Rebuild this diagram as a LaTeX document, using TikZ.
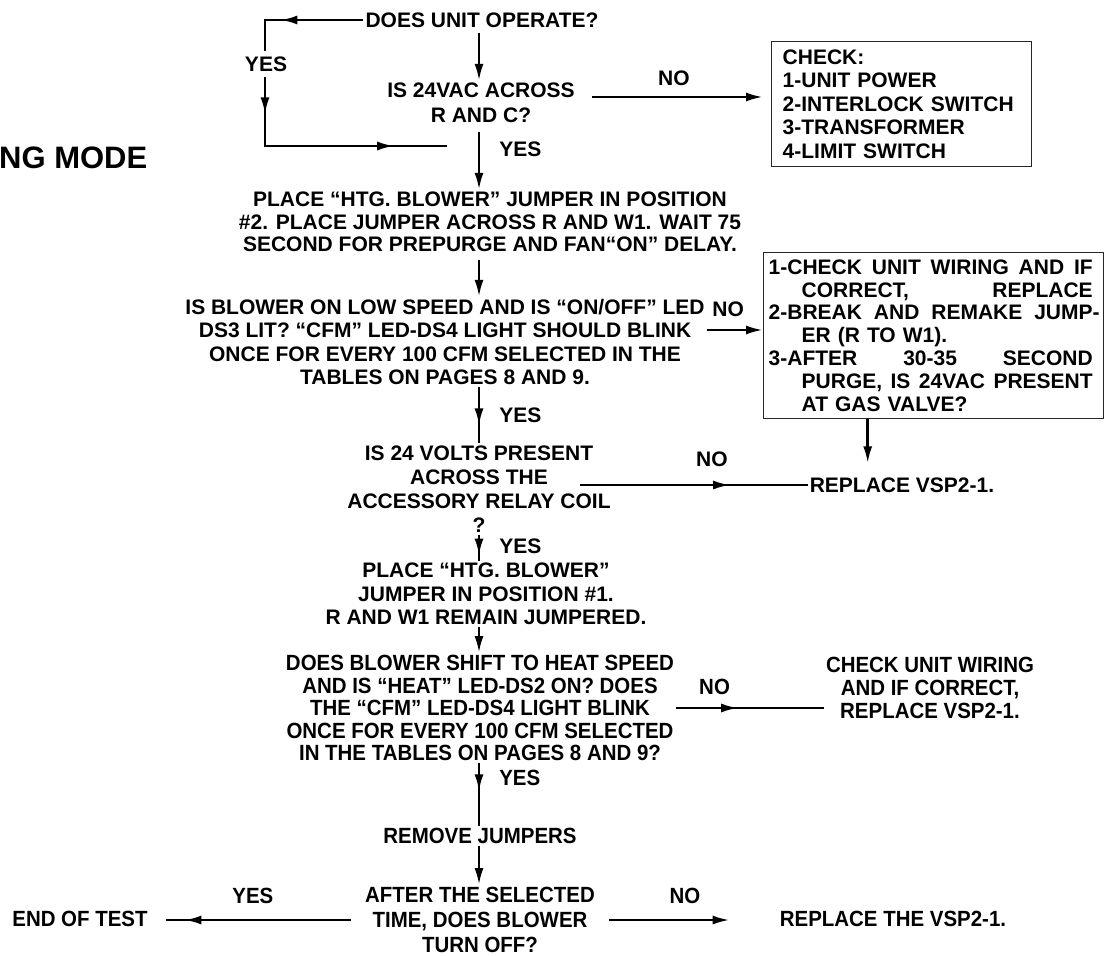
\documentclass[tikz,border=0pt]{standalone}
\usepackage{fontspec}
\setmainfont{Liberation Sans}
\newfontfamily\narrowfont[FakeStretch=0.93]{Liberation Sans}
\usetikzlibrary{arrows.meta, decorations.markings}

\begin{document}
\begin{tikzpicture}[x=1pt, y=-1pt,
    txt/.style={font=\bfseries\fontsize{21}{#1}\selectfont, align=center, inner sep=2pt},
    txt/.default=23,
    lowtxt/.style={font=\narrowfont\bfseries\fontsize{22}{#1}\selectfont, align=center, inner sep=2pt},
    lowtxt/.default=23,
    notebox/.style={draw=black!85, line width=1.4pt, align=left, anchor=north west},
    conn/.style={line width=2.6pt},
    arr/.style={conn, -{Latex[length=17pt, width=9pt]}},
    midarrow/.style={postaction={decorate, decoration={markings,
        mark=at position #1 with {\arrow{Latex[length=17pt, width=9pt]}}}}}]
    \fill[white] (0,0) rectangle (1110,955);
    \useasboundingbox (0,0) rectangle (1110,955);
    \coordinate (ax) at (479,0);

    % first questions and the YES loop
    \node[txt] (op) at (482,20) {DOES UNIT OPERATE?};
    \node[txt=25] (ac) at (481,103) {IS 24VAC ACROSS\\R AND C?};
    \node[txt, inner ysep=5pt] (yes1) at (266,64) {YES};
    \coordinate (ltop) at (265,20);
    \coordinate (lbot) at (265,146);
    \coordinate (lend) at (447,146);
    \draw[conn, midarrow=0.64] (op.west) -- (ltop) -- (ltop |- yes1.north);
    \draw[conn, midarrow=0.15, midarrow=0.79] (ltop |- yes1.south) -- (lbot) -- (lend);
    \draw[arr, shorten <=3pt] (op.south -| ax) -- (ac.north -| ax);

    \node[notebox, text width=238pt, inner xsep=11pt, inner ysep=8pt,
        font=\bfseries\fontsize{21}{23.5}\selectfont] (check) at (771,41)
        {CHECK:\\1-UNIT POWER\\2-INTERLOCK SWITCH\\3-TRANSFORMER\\4-LIMIT SWITCH};
    \draw[arr, shorten <=15pt, shorten >=8pt] ([yshift=6pt]ac.east)
        -- node[txt, above=8pt] (no1) {NO} ([yshift=6pt]ac.east -| check.west);

    \node[anchor=west, inner sep=0pt, font=\bfseries\fontsize{31}{33}\selectfont]
        (mode) at (-1,158) {NG MODE};

    % blower test on position 2
    \node[txt=22.5] (place) at (490,222)
        {PLACE “HTG. BLOWER” JUMPER IN POSITION\\\#2. PLACE JUMPER ACROSS R AND W1. WAIT 75\\SECOND FOR PREPURGE AND FAN“ON” DELAY.};
    \draw[arr, shorten <=7pt] (ac.south -| ax)
        -- node[txt, right=17pt, pos=0.37] (yes2) {YES} (place.north -| ax);

    \node[txt=23.5] (led) at (445,342)
        {IS BLOWER ON LOW SPEED AND IS “ON/OFF” LED\\DS3 LIT? “CFM” LED-DS4 LIGHT SHOULD BLINK\\ONCE FOR EVERY 100 CFM SELECTED IN THE\\TABLES ON PAGES 8 AND 9.};
    \draw[arr, shorten <=6pt] (place.south -| ax) -- (led.north -| ax);

    \node[notebox, text width=330pt, inner xsep=5pt, inner ysep=7pt,
        font=\bfseries\fontsize{21}{22.8}\selectfont] (fix) at (763,252) {%
        \makebox[324pt][l]{1-CHECK\hfill UNIT\hfill WIRING\hfill AND\hfill IF}\\
        \hspace*{33pt}\makebox[291pt][l]{CORRECT,\hfill REPLACE}\\
        \makebox[324pt][l]{2-BREAK\hfill AND\hfill REMAKE\hfill JUMP\rlap{-}}\\
        \hspace*{33pt}ER (R TO W1).\\
        \makebox[324pt][l]{3-AFTER\hfill 30-35\hfill SECOND}\\
        \hspace*{33pt}\makebox[291pt][l]{PURGE,\hfill IS\hfill 24VAC\hfill PRESENT}\\
        \hspace*{33pt}AT GAS VALVE?};
    \draw[arr] ([yshift=12pt]led.east)
        -- node[txt, above=10pt, pos=0.38] (no2) {NO} ([yshift=12pt]led.east -| fix.west);

    \node[txt] (rep1) at (902,485) {REPLACE VSP2-1.};
    \coordinate (fixout) at ([xshift=-66pt]fix.south);
    \draw[arr, shorten >=12pt] (fixout) -- (fixout |- rep1.north);

    % accessory relay
    \node[txt=24] (volts) at (479,489)
        {IS 24 VOLTS PRESENT\\ACROSS THE\\ACCESSORY RELAY COIL\\?};
    \draw[conn, midarrow=0.68] (led.south -| ax)
        -- node[txt, right=17pt, pos=0.5] (yes3) {YES} (volts.north -| ax);
    \coordinate (vno) at ([xshift=-33pt]volts.east);
    \draw[conn, midarrow=0.66] (vno |- rep1.west)
        -- node[txt, above=15pt, pos=0.58] (no3) {NO} (rep1.west);

    % blower test on position 1
    \node[txt=23.5] (place2) at (486,594)
        {PLACE “HTG. BLOWER”\\JUMPER IN POSITION \#1.\\R AND W1 REMAIN JUMPERED.};
    \draw[conn, midarrow=0.8] (volts.south -| ax)
        -- node[txt, right=17pt, pos=0.45] (yes4) {YES} (place2.north -| ax);

    \node[lowtxt=22.5] (blower) at (480,708)
        {DOES BLOWER SHIFT TO HEAT SPEED\\AND IS “HEAT” LED-DS2 ON? DOES\\THE “CFM” LED-DS4 LIGHT BLINK\\ONCE FOR EVERY 100 CFM SELECTED\\IN THE TABLES ON PAGES 8 AND 9?};
    \draw[arr] (place2.south -| ax) -- (blower.north -| ax);

    \node[lowtxt] (check2) at (930,688)
        {CHECK UNIT WIRING\\AND IF CORRECT,\\REPLACE VSP2-1.};
    \draw[conn, midarrow=0.42] (blower.east)
        -- node[lowtxt, above=10pt, pos=0.26] (no4) {NO} (blower.east -| check2.west);

    % end of the test
    \node[lowtxt] (remove) at (480,836) {REMOVE JUMPERS};
    \draw[conn, midarrow=0.45] (blower.south -| ax)
        -- node[lowtxt, right=17pt, pos=0.24] (yes5) {YES} (remove.north -| ax);

    \node[lowtxt=25, inner xsep=14pt] (after) at (480,920)
        {AFTER THE SELECTED\\TIME, DOES BLOWER\\TURN OFF?};
    \draw[arr] (remove.south -| ax) -- (after.north -| ax);

    \node[lowtxt, inner xsep=18pt] (endt) at (80,919) {END OF TEST};
    \draw[conn, midarrow=0.9] (after.west)
        -- node[lowtxt, above=13pt, pos=0.53] (yes6) {YES} (after.west -| endt.east);

    \node[lowtxt] (rep2) at (893,919) {REPLACE THE VSP2-1.};
    \draw[arr, shorten >=48pt] (after.east)
        -- node[lowtxt, above=13pt, pos=0.45] (no5) {NO} (after.east -| rep2.west);
\end{tikzpicture}
\end{document}
